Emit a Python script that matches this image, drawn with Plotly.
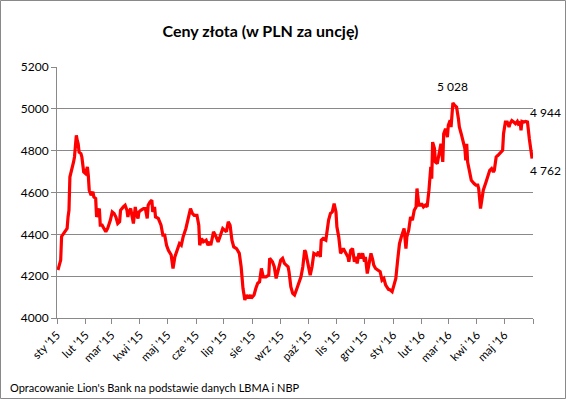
import plotly.graph_objects as go

# ---- data ----
dates = [
    "2015-01-02", "2015-01-05", "2015-01-06", "2015-01-09", "2015-01-12", "2015-01-13", "2015-01-14",
    "2015-01-15", "2015-01-17", "2015-01-19", "2015-01-20", "2015-01-21", "2015-01-22", "2015-01-23",
    "2015-01-24", "2015-01-25", "2015-01-27", "2015-01-28", "2015-01-30", "2015-02-01", "2015-02-03",
    "2015-02-04", "2015-02-05", "2015-02-07", "2015-02-09", "2015-02-10", "2015-02-12", "2015-02-13",
    "2015-02-14", "2015-02-16", "2015-02-17", "2015-02-19", "2015-02-21", "2015-02-23", "2015-02-25",
    "2015-02-28", "2015-03-02", "2015-03-04", "2015-03-06", "2015-03-08", "2015-03-10", "2015-03-11",
    "2015-03-14", "2015-03-16", "2015-03-18", "2015-03-19", "2015-03-20", "2015-03-22", "2015-03-24",
    "2015-03-25", "2015-03-27", "2015-03-28", "2015-03-30", "2015-03-31", "2015-04-02", "2015-04-05",
    "2015-04-07", "2015-04-09", "2015-04-10", "2015-04-12", "2015-04-14", "2015-04-15", "2015-04-17",
    "2015-04-18", "2015-04-21", "2015-04-24", "2015-04-26", "2015-04-28", "2015-04-30", "2015-05-02",
    "2015-05-05", "2015-05-07", "2015-05-09", "2015-05-11", "2015-05-14", "2015-05-16", "2015-05-18",
    "2015-05-21", "2015-05-23", "2015-05-26", "2015-05-28", "2015-05-30", "2015-06-02", "2015-06-04",
    "2015-06-05", "2015-06-07", "2015-06-09", "2015-06-12", "2015-06-14", "2015-06-16", "2015-06-17",
    "2015-06-20", "2015-06-22", "2015-06-25", "2015-06-27", "2015-06-30", "2015-07-02", "2015-07-04",
    "2015-07-06", "2015-07-08", "2015-07-10", "2015-07-12", "2015-07-15", "2015-07-18", "2015-07-20",
    "2015-07-22", "2015-07-24", "2015-07-26", "2015-07-28", "2015-07-30", "2015-07-31", "2015-08-03",
    "2015-08-05", "2015-08-07", "2015-08-09", "2015-08-11", "2015-08-13", "2015-08-16", "2015-08-19",
    "2015-08-20", "2015-08-23", "2015-08-25", "2015-08-27", "2015-08-29", "2015-09-01", "2015-09-03",
    "2015-09-05", "2015-09-07", "2015-09-09", "2015-09-10", "2015-09-12", "2015-09-14", "2015-09-16",
    "2015-09-18", "2015-09-21", "2015-09-23", "2015-09-25", "2015-09-27", "2015-09-28", "2015-09-30",
    "2015-10-02", "2015-10-03", "2015-10-05", "2015-10-07", "2015-10-10", "2015-10-12", "2015-10-14",
    "2015-10-15", "2015-10-17", "2015-10-20", "2015-10-21", "2015-10-23", "2015-10-25", "2015-10-27",
    "2015-10-29", "2015-10-31", "2015-11-01", "2015-11-03", "2015-11-05", "2015-11-08", "2015-11-10",
    "2015-11-13", "2015-11-14", "2015-11-16", "2015-11-18", "2015-11-20", "2015-11-22", "2015-11-23",
    "2015-11-25", "2015-11-27", "2015-11-29", "2015-12-01", "2015-12-02", "2015-12-04", "2015-12-06",
    "2015-12-08", "2015-12-10", "2015-12-11", "2015-12-13", "2015-12-16", "2015-12-18", "2015-12-20",
    "2015-12-22", "2015-12-24", "2015-12-27", "2015-12-29", "2015-12-31", "2016-01-02", "2016-01-04",
    "2016-01-06", "2016-01-08", "2016-01-10", "2016-01-12", "2016-01-13", "2016-01-15", "2016-01-16",
    "2016-01-18", "2016-01-20", "2016-01-22", "2016-01-24", "2016-01-26", "2016-01-27", "2016-01-29",
    "2016-01-31", "2016-02-01", "2016-02-03", "2016-02-05", "2016-02-07", "2016-02-09", "2016-02-11",
    "2016-02-12", "2016-02-13", "2016-02-15", "2016-02-16", "2016-02-18", "2016-02-20", "2016-02-22",
    "2016-02-24", "2016-02-25", "2016-02-27", "2016-02-29", "2016-03-01", "2016-03-03", "2016-03-04",
    "2016-03-06", "2016-03-08", "2016-03-10", "2016-03-12", "2016-03-13", "2016-03-15", "2016-03-17",
    "2016-03-19", "2016-03-20", "2016-03-21", "2016-03-22", "2016-03-24", "2016-03-26", "2016-03-29",
    "2016-03-31", "2016-04-02", "2016-04-03", "2016-04-05", "2016-04-07", "2016-04-08", "2016-04-11",
    "2016-04-13", "2016-04-15", "2016-04-17", "2016-04-19", "2016-04-20", "2016-04-22", "2016-04-24",
    "2016-04-27", "2016-04-29", "2016-04-30", "2016-05-02", "2016-05-04", "2016-05-06", "2016-05-07",
    "2016-05-09", "2016-05-11", "2016-05-13", "2016-05-15", "2016-05-16", "2016-05-18", "2016-05-19",
    "2016-05-20", "2016-05-22", "2016-05-24", "2016-05-26", "2016-05-28", "2016-05-29", "2016-05-31",
]

prices = [
    4229, 4277, 4390, 4412, 4428, 4483, 4515,
    4674, 4706, 4746, 4770, 4833, 4873, 4849,
    4833, 4793, 4786, 4770, 4698, 4690, 4722,
    4682, 4611, 4587, 4603, 4579, 4571, 4483,
    4500, 4523, 4444, 4444, 4428, 4412, 4428,
    4468, 4507, 4500, 4483, 4452, 4460, 4515,
    4531, 4539, 4515, 4483, 4507, 4523, 4476,
    4452, 4531, 4500, 4476, 4507, 4515, 4523,
    4523, 4476, 4539, 4555, 4563, 4507, 4531,
    4483, 4476, 4444, 4396, 4396, 4348, 4324,
    4301, 4237, 4292, 4316, 4356, 4348, 4388,
    4428, 4468, 4523, 4500, 4491, 4491, 4444,
    4348, 4380, 4364, 4372, 4348, 4364, 4348,
    4412, 4396, 4364, 4388, 4428, 4420, 4412,
    4460, 4444, 4372, 4340, 4332, 4309, 4245,
    4142, 4086, 4110, 4094, 4110, 4094, 4110,
    4142, 4166, 4173, 4237, 4197, 4197, 4205,
    4285, 4269, 4245, 4189, 4229, 4277, 4285,
    4261, 4253, 4245, 4221, 4149, 4118, 4110,
    4134, 4166, 4197, 4245, 4324, 4316, 4269,
    4229, 4205, 4245, 4309, 4301, 4316, 4292,
    4372, 4380, 4372, 4404, 4468, 4500, 4507,
    4547, 4507, 4436, 4388, 4309, 4332, 4316,
    4292, 4269, 4324, 4332, 4269, 4292, 4261,
    4309, 4285, 4309, 4269, 4292, 4213, 4261,
    4309, 4277, 4253, 4237, 4229, 4221, 4181,
    4189, 4157, 4137, 4134, 4126, 4157, 4189,
    4277, 4356, 4388, 4420, 4428, 4332, 4388,
    4420, 4483, 4468, 4515, 4531, 4619, 4539,
    4539, 4547, 4531, 4539, 4531, 4611, 4722,
    4666, 4841, 4810, 4746, 4738, 4778, 4833,
    4746, 4881, 4905, 4865, 4921, 4945, 4913,
    5028, 5016, 5008, 4953, 4913, 4881, 4849,
    4810, 4754, 4833, 4746, 4706, 4658, 4643,
    4635, 4635, 4619, 4523, 4595, 4611, 4650,
    4674, 4706, 4714, 4698, 4706, 4770, 4778,
    4793, 4802, 4881, 4937, 4937, 4913, 4929,
    4944, 4937, 4929, 4940, 4929, 4937, 4897,
    4940, 4937, 4940, 4937, 4857, 4825, 4762,
]

tick_dates = [
    "2015-01-01", "2015-02-01", "2015-03-01", "2015-04-01", "2015-05-01", "2015-06-01",
    "2015-07-01", "2015-08-01", "2015-09-01", "2015-10-01", "2015-11-01", "2015-12-01",
    "2016-01-01", "2016-02-01", "2016-03-01", "2016-04-01", "2016-05-01", "2016-06-01",
]
tick_labels = [
    "sty '15", "lut '15", "mar '15", "kwi '15", "maj '15", "cze '15",
    "lip '15", "sie '15", "wrz '15", "paź '15", "lis '15", "gru '15",
    "sty '16", "lut '16", "mar '16", "kwi '16", "maj '16", "",
]

title_text = "Ceny złota (w PLN za uncję)"
source_text = "Opracowanie Lion's Bank na podstawie danych LBMA i NBP"
peak_label = "5 028"
high_label = "4 944"
last_label = "4 762"

FONT = "Lato, Carlito, Calibri, sans-serif"
GRID = "#898989"

fig = go.Figure()
fig.add_trace(go.Scatter(
    x=dates, y=prices, mode="lines",
    line=dict(color="#ff0000", width=3.2),
    showlegend=False, hoverinfo="x+y",
))

W, H = 566, 399
L, R, T, B = 57, 33, 67, 81
pw, ph = W - L - R, H - T - B

fig.update_layout(
    width=W, height=H,
    margin=dict(l=L, r=R, t=T, b=B, pad=0),
    paper_bgcolor="white", plot_bgcolor="white",
    font=dict(family=FONT, size=11, color="#000000"),
    title=dict(text="<b>" + title_text + "</b>", x=260.5 / W, xanchor="center",
               y=1 - 31 / H, yanchor="middle",
               font=dict(family=FONT, size=16, color="#000000")),
    xaxis=dict(
        type="date", range=["2015-01-01", "2016-06-01"],
        tickmode="array", tickvals=tick_dates, ticktext=tick_labels,
        tickangle=-45, ticks="outside", ticklen=5, tickcolor=GRID,
        showline=True, linecolor=GRID, linewidth=1,
        showgrid=False, zeroline=False,
        tickfont=dict(family=FONT, size=11.5, color="#000000"),
    ),
    yaxis=dict(
        range=[4000, 5200], tickmode="array",
        tickvals=[4000, 4200, 4400, 4600, 4800, 5000, 5200],
        ticktext=["4000", "4200", "4400", "4600", "4800", "5000", "5200"],
        ticks="outside", ticklen=5, tickcolor=GRID,
        showline=True, linecolor=GRID, linewidth=1,
        showgrid=True, gridcolor=GRID, gridwidth=1, zeroline=False,
        tickfont=dict(family=FONT, size=12, color="#000000"),
    ),
    annotations=[
        dict(x="2016-03-06", y=5028, xref="x", yref="y", text=peak_label,
             showarrow=False, yshift=16, yanchor="middle", xanchor="center",
             font=dict(family=FONT, size=12, color="#000000")),
        dict(x="2016-06-01", y=4944, xref="x", yref="y", text=high_label,
             showarrow=False, yshift=8, xshift=-5, yanchor="middle", xanchor="left",
             font=dict(family=FONT, size=12, color="#000000")),
        dict(x="2016-06-01", y=4762, xref="x", yref="y", text=last_label,
             showarrow=False, yshift=-12, xshift=-5, yanchor="middle", xanchor="left",
             font=dict(family=FONT, size=12, color="#000000")),
        dict(x=(8 - L) / pw, y=(H - B - 387) / ph, xref="paper", yref="paper",
             text=source_text, showarrow=False, xanchor="left", yanchor="middle",
             font=dict(family=FONT, size=11, color="#000000")),
    ],
    shapes=[
        dict(type="rect", xref="paper", yref="paper",
             x0=(0.5 - L) / pw, x1=(W - 0.5 - L) / pw,
             y0=(H - B - (H - 0.5)) / ph, y1=(H - B - 0.5) / ph,
             line=dict(color="#898989", width=1), fillcolor="rgba(0,0,0,0)",
             layer="below"),
    ],
)

fig.write_html(
    "out.html",
    config={"displayModeBar": False},
    post_script="document.body.style.margin='0';document.body.style.overflow='hidden';",
)
